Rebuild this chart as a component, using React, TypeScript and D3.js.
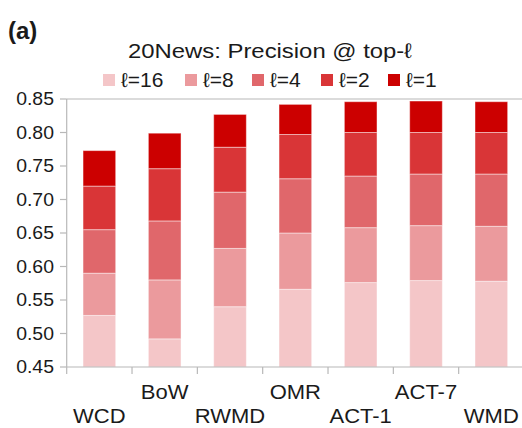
import React from "react";
import * as d3 from "d3";

const categories = ["WCD", "BoW", "RWMD", "OMR", "ACT-1", "ACT-7", "WMD"];
const seriesNames = ["ℓ=16", "ℓ=8", "ℓ=4", "ℓ=2", "ℓ=1"];
const p16 = [0.527, 0.492, 0.54, 0.566, 0.576, 0.579, 0.578];
const p8 = [0.59, 0.58, 0.627, 0.65, 0.658, 0.661, 0.66];
const p4 = [0.655, 0.668, 0.711, 0.731, 0.735, 0.738, 0.738];
const p2 = [0.72, 0.746, 0.778, 0.797, 0.8, 0.8, 0.8];
const p1 = [0.773, 0.799, 0.827, 0.842, 0.846, 0.847, 0.846];
const yTicks = [0.45, 0.5, 0.55, 0.6, 0.65, 0.7, 0.75, 0.8, 0.85];
const colors = ["#f4c6c8", "#eb9a9d", "#e0676b", "#d93537", "#cc0000"];

const W = 522;
const H = 428;
const FONT = "'Liberation Sans', Arial, sans-serif";

export default function App() {
  const series = [p16, p8, p4, p2, p1];
  const x = d3
    .scaleBand<string>()
    .domain(categories)
    .range([66.7, 524])
    .paddingInner(0.5)
    .paddingOuter(0.25);
  const xb = d3.scaleBand<string>().domain(categories).range([66.7, 524]);
  const y = d3.scaleLinear().domain([0.45, 0.85]).range([367, 99]);
  const axisColor = "#b8b8b8";
  const textColor = "#1a1a1a";

  const legendX = [103, 185, 252, 321, 388];
  const sx = (cx: number, k: number) =>
    `translate(${cx},0) scale(${k},1) translate(${-cx},0)`;

  return (
    <svg
      width={W}
      height={H}
      style={{ position: "absolute", left: 0, top: 0, background: "#fff" }}
    >
      <text x={8} y={39} fontFamily={FONT} fontWeight="bold" fontSize={24} fill={textColor}>
        (a)
      </text>
      <text
        x={270}
        y={58}
        textAnchor="middle"
        fontFamily={FONT}
        fontSize={21}
        fill={textColor}
        textLength={284}
        lengthAdjust="spacingAndGlyphs"
      >
        20News: Precision @ top-ℓ
      </text>
      {seriesNames.map((s, i) => (
        <g key={s}>
          <rect x={legendX[i]} y={74} width={12} height={12} fill={colors[i]} />
          <text
            x={legendX[i] + 18}
            y={87.5}
            fontFamily={FONT}
            fontSize={20}
            fill={textColor}
            transform={sx(legendX[i] + 18, 1.05)}
          >
            {s}
          </text>
        </g>
      ))}
      {/* top border line */}
      <line x1={66.7} x2={W} y1={y(0.85)} y2={y(0.85)} stroke={axisColor} strokeWidth={1.2} />
      {/* y axis */}
      <line x1={66.7} x2={66.7} y1={y(0.85)} y2={y(0.45)} stroke={axisColor} strokeWidth={1.2} />
      {yTicks.map((t) => (
        <g key={t}>
          <line x1={60} x2={66.7} y1={y(t)} y2={y(t)} stroke={axisColor} strokeWidth={1.2} />
          <text
            x={54}
            y={y(t) + 6.5}
            textAnchor="end"
            fontFamily={FONT}
            fontSize={18}
            fill={textColor}
            transform={sx(54, 1.08)}
          >
            {t.toFixed(2)}
          </text>
        </g>
      ))}
      {/* bars */}
      {categories.map((c, ci) => (
        <g key={c}>
          {series.map((s, si) => {
            const lo = si === 0 ? 0.45 : series[si - 1][ci];
            const hi = s[ci];
            return (
              <rect
                key={si}
                x={x(c)}
                width={x.bandwidth()}
                y={y(hi)}
                height={y(lo) - y(hi)}
                fill={colors[si]}
                stroke="#ffffff"
                strokeOpacity={0.45}
                strokeWidth={1}
              />
            );
          })}
        </g>
      ))}
      {/* x axis */}
      <line x1={66.7} x2={W} y1={y(0.45)} y2={y(0.45)} stroke={axisColor} strokeWidth={1.2} />
      {categories.map((c) => (
        <line
          key={"t" + c}
          x1={xb(c)}
          x2={xb(c)}
          y1={y(0.45)}
          y2={y(0.45) + 7}
          stroke={axisColor}
          strokeWidth={1.2}
        />
      ))}
      {categories.map((c, ci) => {
        const cx = (xb(c) as number) + xb.bandwidth() / 2;
        const ty = ci % 2 === 1 ? 399.5 : 423.5;
        return (
          <text
            key={"l" + c}
            x={cx}
            y={ty}
            textAnchor="middle"
            fontFamily={FONT}
            fontSize={20}
            fill={textColor}
            transform={sx(cx, 1.1)}
          >
            {c}
          </text>
        );
      })}
    </svg>
  );
}
